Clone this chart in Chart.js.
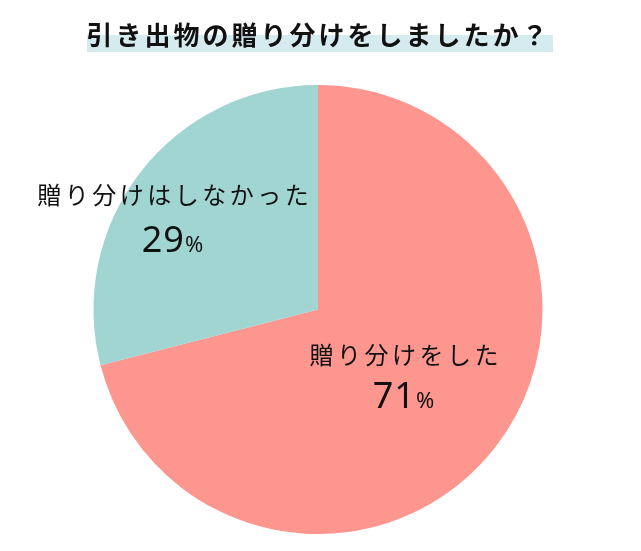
<!DOCTYPE html>
<html><head><meta charset="utf-8">
<script src="https://cdn.jsdelivr.net/npm/chart.js@4"></script>
<style>html,body{margin:0;padding:0;background:#fff;}canvas{display:block;}</style>
</head><body>
<canvas id="c" width="641" height="551"></canvas>
<script>
const titleText = '引き出物の贈り分けをしましたか？';
const categories = ['贈り分けをした', '贈り分けはしなかった'];
const values = [71, 29];
const colors = ['#FD968F', '#A1D5D1'];

const FONT = '"Noto Sans CJK JP", "Noto Sans", sans-serif';

const titlePlugin = {
  id: 'titleBand',
  afterDraw(chart) {
    const ctx = chart.ctx;
    ctx.save();
    ctx.fillStyle = '#D6EBF0';
    ctx.fillRect(87, 35, 466, 17);
    ctx.fillStyle = '#111';
    ctx.font = 'bold 26px ' + FONT;
    ctx.letterSpacing = '3px';
    ctx.textBaseline = 'middle';
    const w = ctx.measureText(titleText).width - 3;
    ctx.fillText(titleText, 317 - w / 2, 35);
    ctx.restore();
  }
};

const labelPlugin = {
  id: 'sliceLabels',
  afterDraw(chart) {
    const ctx = chart.ctx;
    const area = chart.chartArea;
    const cx = (area.left + area.right) / 2;
    const cy = (area.top + area.bottom) / 2;
    const pos = [
      {tx: cx + 86, ty: cy + 45, py: cy + 88},
      {tx: cx - 145, ty: cy - 115, py: cy - 68}
    ];
    ctx.save();
    ctx.fillStyle = '#111';
    ctx.textBaseline = 'middle';
    categories.forEach((cat, i) => {
      const p = pos[i];
      ctx.font = '24px ' + FONT;
      ctx.letterSpacing = '3.5px';
      const w = ctx.measureText(cat).width - 3.5;
      ctx.fillText(cat, p.tx - w / 2, p.ty);
      ctx.letterSpacing = '1px';
      const num = String(values[i]);
      ctx.font = '36px "Noto Sans", ' + FONT;
      const wn = ctx.measureText(num).width;
      ctx.font = '22px "Noto Sans", ' + FONT;
      const wp = ctx.measureText('%').width;
      const start = p.tx - (wn + wp) / 2;
      ctx.font = '36px "Noto Sans", ' + FONT;
      ctx.fillText(num, start, p.py);
      ctx.font = '22px "Noto Sans", ' + FONT;
      ctx.fillText('%', start + wn, p.py + 4);
    });
    ctx.restore();
  }
};

new Chart(document.getElementById('c'), {
  type: 'pie',
  data: {
    labels: categories,
    datasets: [{
      data: values,
      backgroundColor: colors,
      borderWidth: 0
    }]
  },
  options: {
    responsive: false,
    animation: false,
    layout: {padding: {top: 85, bottom: 17, left: 93, right: 98}},
    plugins: {legend: {display: false}, tooltip: {enabled: false}, title: {display: false}}
  },
  plugins: [titlePlugin, labelPlugin]
});
</script>
</body></html>
